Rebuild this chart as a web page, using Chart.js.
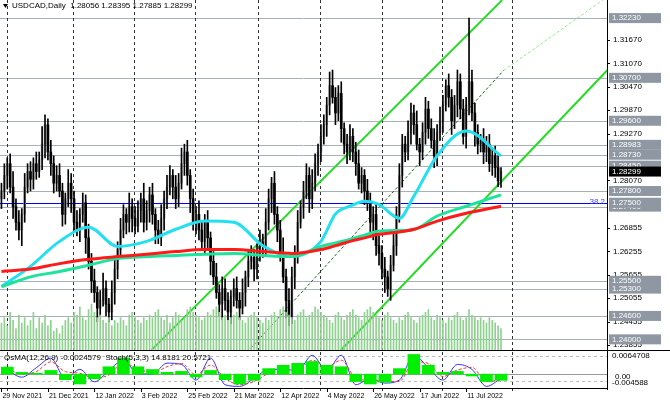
<!DOCTYPE html>
<html><head><meta charset="utf-8">
<script src="https://cdn.jsdelivr.net/npm/chart.js@4"></script>
<style>
html,body{margin:0;padding:0;background:#fff;width:670px;height:403px;overflow:hidden}
#m{position:absolute;left:0;top:0}
#s{position:absolute;left:0;top:350px}
</style></head><body>
<canvas id="m" width="670" height="350"></canvas>
<canvas id="s" width="670" height="53"></canvas>
<script>
const closes=[1.2780,1.2820,1.2850,1.2790,1.2740,1.2700,1.2680,1.2720,1.2790,1.2830,
1.2810,1.2850,1.2830,1.2860,1.2900,1.2950,1.2880,1.2850,1.2800,1.2820,
1.2780,1.2720,1.2760,1.2800,1.2760,1.2700,1.2680,1.2720,1.2750,1.2660,
1.2600,1.2550,1.2520,1.2480,1.2500,1.2530,1.2490,1.2470,1.2520,1.2580,
1.2630,1.2680,1.2720,1.2700,1.2740,1.2710,1.2690,1.2730,1.2760,1.2700,
1.2730,1.2770,1.2720,1.2680,1.2660,1.2710,1.2760,1.2790,1.2820,1.2790,
1.2760,1.2800,1.2850,1.2880,1.2820,1.2760,1.2700,1.2720,1.2680,1.2650,
1.2700,1.2660,1.2600,1.2560,1.2520,1.2490,1.2530,1.2500,1.2470,1.2510,
1.2530,1.2500,1.2480,1.2520,1.2560,1.2600,1.2610,1.2580,1.2620,1.2650,
1.2640,1.2700,1.2760,1.2800,1.2720,1.2680,1.2620,1.2560,1.2500,1.2460,
1.2560,1.2620,1.2700,1.2740,1.2780,1.2820,1.2760,1.2800,1.2850,1.2880,
1.2920,1.2950,1.3000,1.3050,1.3020,1.2980,1.3030,1.2940,1.2900,1.2880,
1.2920,1.2880,1.2850,1.2800,1.2820,1.2780,1.2750,1.2700,1.2720,1.2640,
1.2620,1.2580,1.2560,1.2530,1.2590,1.2640,1.2720,1.2820,1.2900,1.2880,
1.2930,1.2980,1.2950,1.2900,1.2880,1.2930,1.2990,1.2940,1.2910,1.2870,
1.2930,1.2960,1.3000,1.3050,1.3020,1.2960,1.3000,1.3060,1.2990,1.2920,
1.3000,1.3060,1.2980,1.2930,1.2900,1.2910,1.2880,1.2900,1.2850,1.2870,
1.2840,1.2806,1.2830];
const upWickPips=[20,30,15,25,40,20,30,15,35,20,25,15,30,20,45,25,15,30,20,25,30,20,15,35,25,20,30,15,25,20,35,20,30,15,25,40,20,15,30,25,20,30,25,15,35,20,30,25,15,40,25,20,30,15,25,35,20,30,25,15,30,25,40,20,30,15,25,20,35,25,20,30,15,25,35,20,30,25,20,15,25,30,20,35,15,25,30,20,25,30,20,35,25,15,30,20,25,40,20,30,25,20,30,15,25,30,20,35,25,20,30,25,20,35,40,25,20,30,15,25,30,20,25,35,20,15,30,25,20,30,25,20,30,15,25,35,20,30,25,20,30,25,20,35,15,25,30,20,25,30,20,35,25,15,30,20,25,30,20,25,20,163,30,25,20,15,30,20,25,20,25,30,10];
const downWickPips=[25,20,35,15,30,20,25,40,20,15,30,25,20,15,25,35,20,30,25,20,15,30,25,20,35,25,15,30,20,40,20,30,25,35,20,15,30,25,20,30,25,15,20,30,25,35,20,15,30,25,20,30,25,35,15,20,30,25,20,30,25,20,15,30,25,35,20,30,25,20,30,25,35,20,15,30,40,25,20,30,25,20,30,15,35,25,20,30,25,20,30,25,20,35,25,30,20,15,45,25,20,30,25,15,30,20,35,25,20,30,25,20,30,25,15,30,20,35,25,30,20,25,30,15,25,35,20,30,45,25,30,25,40,20,30,15,25,20,30,25,20,30,25,15,35,20,30,25,20,30,25,20,30,15,25,35,20,30,25,20,30,25,20,35,25,20,30,25,20,30,25,15,17];
const volumes=[50,60,45,70,55,40,65,50,60,45,55,70,40,60,50,65,45,55,35,40,30,45,55,60,50,70,65,80,60,55,75,85,70,60,65,55,50,60,45,55,50,60,55,45,65,70,60,55,50,60,55,65,60,70,75,60,55,65,50,60,70,65,55,60,75,80,70,65,60,55,60,70,65,75,80,70,60,65,55,60,65,70,60,55,50,60,65,70,60,55,50,60,55,65,70,60,75,80,70,65,60,55,65,70,75,60,65,70,80,75,70,65,60,55,50,65,70,60,55,65,70,75,65,60,55,70,75,80,70,65,60,55,65,70,60,55,50,60,55,65,70,60,55,50,60,65,70,75,60,55,65,60,55,50,60,55,65,70,60,55,60,75,65,60,55,60,55,50,60,55,50,45,40];
const maIdx=[0,10,20,30,40,50,60,70,80,90,100,110,115,120,125,130,137,142,150,160,172];
const ma50=[1.2535,1.2587,1.2651,1.2687,1.2638,1.2651,1.2682,1.2703,1.2700,1.2640,1.2612,1.2651,1.2721,1.2741,1.2754,1.2746,1.2710,1.2767,1.2870,1.2934,1.2870];
const ma200=[1.2574,1.2580,1.2594,1.2605,1.2612,1.2618,1.2625,1.2630,1.2630,1.2625,1.2620,1.2630,1.2640,1.2651,1.2660,1.2669,1.2675,1.2682,1.2703,1.2723,1.2741];
const ma100=[1.2535,1.2560,1.2574,1.2590,1.2607,1.2612,1.2615,1.2618,1.2620,1.2615,1.2612,1.2638,1.2647,1.2656,1.2667,1.2677,1.2679,1.2681,1.2716,1.2741,1.2770];
const channelUpper=[[51.7,1.2373],[172.4,1.3269]];
const channelMidSolid=[[84.6,1.2367],[172.9,1.3089]];
const channelMidExt=[[172.9,1.3089],[207,1.3269]];
const channelLower=[[116.2,1.2367],[220.7,1.3184]];
const levelLines=[1.32230,1.30700,1.29600,1.28983,1.28730,1.28450,1.27800,1.27400,1.25500,1.25300,1.24600,1.24000];
const fibLevel=1.27500;
const lastPrice=1.28299;
const axisTicks=[1.31670,1.31070,1.30470,1.29870,1.29270,1.28070,1.26855,1.26255,1.25655,1.25055,1.24455,1.23855];
const separators=[2,24.7,45.5,66.8,88.4,109.6,131.2,151.7,175.7];
const dateIdx=[0,16,32,48,64,80,96,112,128,144,160];
const dateLabels=['29 Nov 2021','21 Dec 2021','12 Jan 2022','3 Feb 2022','25 Feb 2022','21 Mar 2022','12 Apr 2022','4 May 2022','26 May 2022','17 Jun 2022','11 Jul 2022'];
const subIdx=[2,7,12,17,22,27,32,37,42,47,52,57,62,67,72,77,82,87,92,97,102,107,112,117,122,127,132,137,142,147,152,157,162,167,172];
const osma=[0.0023,0.0006,0.0003,0.0012,-0.0018,-0.0032,-0.0015,0.0024,0.0053,0.0024,0.0015,0.0006,0.0009,-0.0009,0.0012,-0.0018,-0.0032,-0.0020,0.0018,0.0029,0.0035,0.0041,0.0029,0.0024,-0.0024,-0.0032,-0.0026,0.0018,0.0064,0.0029,0.0006,0.0009,-0.0006,-0.0024,-0.0020];
const stochMain=[50,28,57,86,24,52,14,48,81,38,38,71,67,19,86,5,0,24,52,52,48,95,48,95,5,24,10,19,95,57,19,67,52,0,24];
const stochSignal=[55,38,45,75,45,40,25,35,70,55,40,60,70,35,65,25,5,15,40,52,50,80,60,80,25,18,15,15,75,70,30,50,58,15,20];

const XMAX=208.5, XMIN=-0.5;
const pts=a=>a.map(p=>({x:p[0],y:p[1]}));
const opens=closes.map((c,i)=>i?closes[i-1]:1.2760);
const wicks=closes.map((c,i)=>({x:i,y:[Math.min(opens[i],c)-downWickPips[i]/10000,Math.max(opens[i],c)+upWickPips[i]/10000]}));
const bodies=closes.map((c,i)=>({x:i,y:[opens[i],c]}));
const bodyCol=closes.map((c,i)=>c>=opens[i]?'#a9a9a9':'#000');
const f='Liberation Sans, DejaVu Sans, sans-serif';

const overlay={id:'ov',
 beforeDatasetsDraw(ch){const {ctx,chartArea:a,scales:{x,y}}=ch;ctx.save();
  ctx.lineWidth=1;
  levelLines.forEach(v=>{const py=Math.round(y.getPixelForValue(v))+0.5;ctx.strokeStyle='#a8b0b8';ctx.beginPath();ctx.moveTo(0,py);ctx.lineTo(a.right,py);ctx.stroke();});
  ctx.setLineDash([3,3]);ctx.strokeStyle='#333';
  separators.forEach(s=>{const px=Math.round(x.getPixelForValue(s))+0.5;ctx.beginPath();ctx.moveTo(px,a.top);ctx.lineTo(px,a.bottom);ctx.stroke();});
  ctx.setLineDash([]);
  const fy=Math.round(y.getPixelForValue(fibLevel))+0.5;ctx.strokeStyle='#0000ff';ctx.beginPath();ctx.moveTo(0,fy);ctx.lineTo(a.right,fy);ctx.stroke();
  ctx.restore();},
 afterDraw(ch){const {ctx,chartArea:a,scales:{y}}=ch;ctx.save();
  ctx.strokeStyle='#000';ctx.lineWidth=1;ctx.beginPath();ctx.moveTo(a.right+0.5,0);ctx.lineTo(a.right+0.5,350);ctx.stroke();
  ctx.font='8px '+f;ctx.textBaseline='middle';
  axisTicks.forEach(v=>{const py=y.getPixelForValue(v);ctx.fillStyle='#000';ctx.fillRect(a.right,Math.round(py),3,1);ctx.fillText(v.toFixed(5),a.right+6,py);});
  const box=(v,bg,fg)=>{const py=y.getPixelForValue(v);ctx.fillStyle=bg;ctx.fillRect(a.right+2,py-5,52,10);ctx.fillStyle=fg;ctx.fillText(v.toFixed(5),a.right+5,py);};
  levelLines.forEach(v=>box(v,'#8f98a2','#fff'));
  box(fibLevel,'#8f98a2','#fff');
  box(lastPrice,'#000','#fff');
  ctx.fillStyle='#3a3aff';ctx.textAlign='right';ctx.fillText('38.2',a.right-2,y.getPixelForValue(fibLevel)-1);
  ctx.textAlign='left';ctx.fillStyle='#000';ctx.fillText('USDCAD,Daily  1.28056 1.28395 1.27885 1.28299',12,6);
  ctx.beginPath();ctx.moveTo(3,4);ctx.lineTo(8,4);ctx.lineTo(5.5,8);ctx.fill();
  ctx.restore();}};

const lineDs=(xs,ys,col,w)=>({type:'line',data:xs.map((v,i)=>({x:v,y:ys[i]})),borderColor:col,borderWidth:w,pointRadius:0,cubicInterpolationMode:'monotone',yAxisID:'y'});
const chLine=(p,col,w,dash)=>({type:'line',data:pts(p),borderColor:col,borderWidth:w,borderDash:dash||[],pointRadius:0,yAxisID:'y'});

new Chart(document.getElementById('m'),{
 data:{datasets:[
  {type:'bar',data:volumes.map((v,i)=>({x:i,y:v})),backgroundColor:'#8fd18f',barThickness:1,yAxisID:'yv'},
  lineDs(maIdx,ma200,'#ff1a1a',3),
  lineDs(maIdx,ma100,'#1ee39a',3),
  lineDs(maIdx,ma50,'#22e0f0',3),
  {type:'bar',data:wicks,backgroundColor:'#000',barThickness:1,yAxisID:'y',grouped:false},
  {type:'bar',data:bodies,backgroundColor:bodyCol,barThickness:2,yAxisID:'y',grouped:false},
  chLine(channelUpper,'#22dd22',2),
  chLine(channelMidSolid,'#1a6e1a',1,[3,2]),
  chLine(channelMidExt,'#90ee90',1,[3,2]),
  chLine(channelLower,'#22dd22',2)
 ]},
 options:{animation:false,responsive:false,maintainAspectRatio:false,
  layout:{padding:0},
  plugins:{legend:{display:false},tooltip:{enabled:false}},
  scales:{
   x:{type:'linear',min:XMIN,max:XMAX,offset:false,display:false},
   y:{position:'right',min:1.23727,max:1.32694,ticks:{display:false},grid:{display:false},border:{display:false},afterFit(s){s.width=63;}},
   yv:{display:false,min:0,max:650}
  }},
 plugins:[overlay]});

const subOv={id:'sov',
 beforeDatasetsDraw(ch){const {ctx,chartArea:a,scales:{x,yo}}=ch;ctx.save();
  ctx.setLineDash([3,3]);ctx.strokeStyle='#333';
  separators.forEach(s=>{const px=Math.round(x.getPixelForValue(s))+0.5;ctx.beginPath();ctx.moveTo(px,a.top);ctx.lineTo(px,a.bottom+4);ctx.stroke();});
  ctx.strokeStyle='#bbb';[6,31].forEach(py=>{ctx.beginPath();ctx.moveTo(0,py+0.5);ctx.lineTo(a.right,py+0.5);ctx.stroke();});
  ctx.setLineDash([]);const z=Math.round(yo.getPixelForValue(0))+0.5;ctx.strokeStyle='#999';ctx.beginPath();ctx.moveTo(0,z);ctx.lineTo(a.right,z);ctx.stroke();
  ctx.restore();},
 afterDraw(ch){const {ctx,chartArea:a,scales:{x}}=ch;ctx.save();
  ctx.strokeStyle='#000';ctx.lineWidth=1;
  ctx.beginPath();ctx.moveTo(0,0.5);ctx.lineTo(670,0.5);ctx.moveTo(0,38.5);ctx.lineTo(a.right,38.5);ctx.moveTo(a.right+0.5,0);ctx.lineTo(a.right+0.5,40);ctx.stroke();
  ctx.font='8px '+f;ctx.fillStyle='#000';ctx.textBaseline='middle';
  ctx.fillText('OsMA(12,26,9) -0.0024579  Stoch(5,3,3) 14.8181 20.5721',4,8);
  ctx.fillText('0.0064708',a.right+5,6);ctx.fillText('0.00',a.right+8,27);ctx.fillText('-0.004588',a.right+5,33);
  ctx.font='7px '+f;
  dateLabels.forEach((d,i)=>{const px=x.getPixelForValue(dateIdx[i]);ctx.fillText(d,px+1,46);ctx.fillRect(Math.round(px),39,1,3);});
  ctx.restore();}};

new Chart(document.getElementById('s'),{
 data:{datasets:[
  {type:'bar',data:subIdx.map((v,i)=>({x:v,y:osma[i]})),backgroundColor:'#00ee00',barThickness:12,yAxisID:'yo'},
  {type:'line',data:subIdx.map((v,i)=>({x:v,y:stochSignal[i]})),borderColor:'#ff3030',borderWidth:1,borderDash:[3,2],pointRadius:0,cubicInterpolationMode:'monotone',yAxisID:'ys'},
  {type:'line',data:subIdx.map((v,i)=>({x:v,y:stochMain[i]})),borderColor:'#3030ff',borderWidth:1,pointRadius:0,cubicInterpolationMode:'monotone',yAxisID:'ys'}
 ]},
 options:{animation:false,responsive:false,maintainAspectRatio:false,
  layout:{padding:{top:2,bottom:15}},
  plugins:{legend:{display:false},tooltip:{enabled:false}},
  scales:{
   x:{type:'linear',min:XMIN,max:XMAX,offset:false,display:false},
   yo:{position:'right',min:-0.0045,max:0.0072,ticks:{display:false},grid:{display:false},border:{display:false},afterFit(s){s.width=63;}},
   ys:{display:false,min:-5,max:105}
  }},
 plugins:[subOv]});
</script></body></html>
